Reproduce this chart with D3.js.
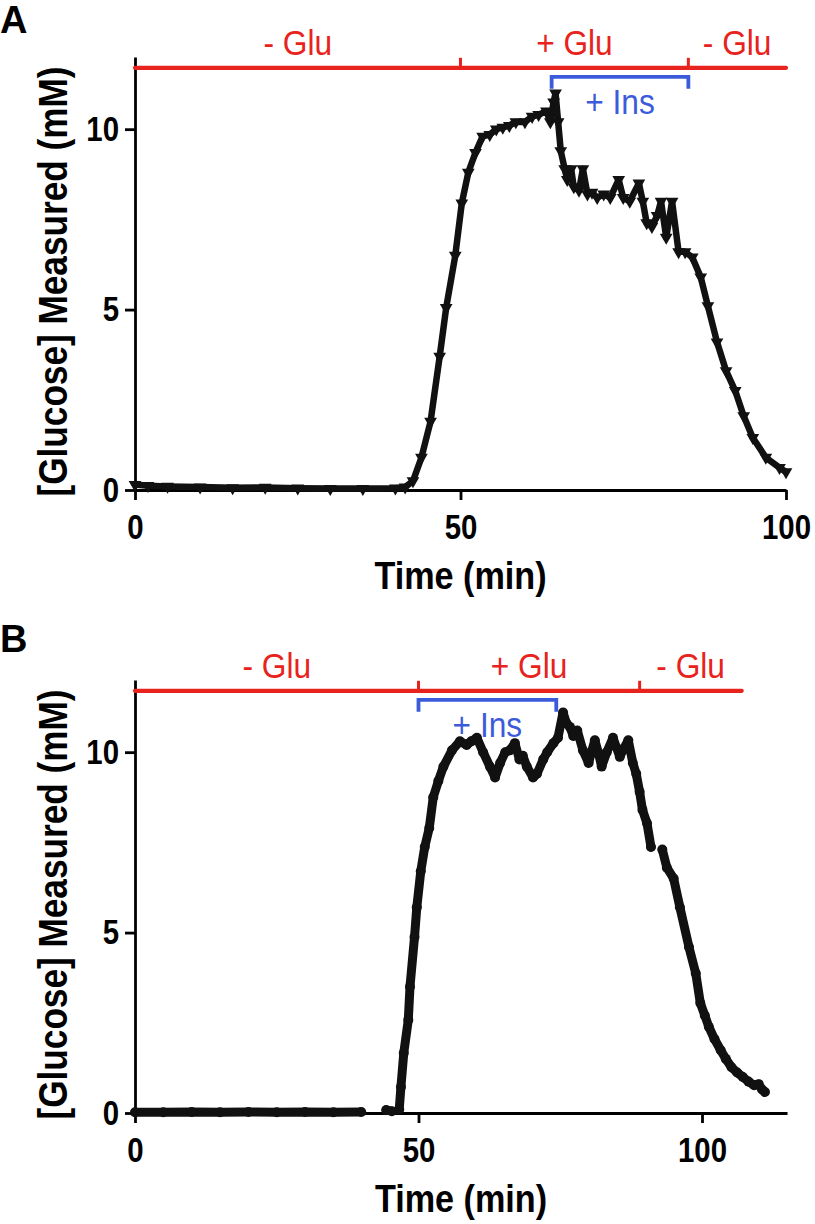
<!DOCTYPE html>
<html>
<head>
<meta charset="utf-8">
<script src="https://cdn.jsdelivr.net/npm/d3@7/dist/d3.min.js"></script>
<style>
  html, body { margin: 0; padding: 0; background: #fff; }
  svg { display: block; }
</style>
</head>
<body>
<script>
// ---------------- DATA ----------------
// Panel A: time (min) and measured glucose (mM)
const timeA = [0, 2, 5, 10, 15, 20, 25, 30, 35, 40, 41.5, 42.7, 44.0, 45.4, 46.8, 47.8, 49.2, 50.2, 51.2, 52.3, 53.4,
  54.5, 55.5, 56.5, 57.5, 58.5, 59.9, 61.0, 62.0, 63.2, 63.8, 64.3, 64.6, 65.0, 65.4, 66.0, 66.4, 67.0, 67.4, 68.2,
  68.8, 69.5, 70.2, 71.0, 72.0, 73.0, 74.3, 75.0, 76.0, 77.4, 78.0, 78.6, 79.4, 80.2, 80.8, 81.6, 82.5, 83.5, 84.5,
  85.6, 86.9, 88.0, 89.4, 90.8, 92.2, 93.5, 94.9, 96.9, 99.0, 100.0];
const glucoseA = [0.15, 0.12, 0.1, 0.08, 0.06, 0.07, 0.05, 0.04, 0.04, 0.05, 0.08, 0.25, 0.9, 1.9, 3.7, 5.05, 6.5, 7.95, 8.8, 9.35, 9.8,
  9.85, 10.0, 10.05, 10.1, 10.2, 10.2, 10.35, 10.4, 10.5, 10.2, 10.75, 11.0, 10.2, 9.4, 8.9, 8.6, 8.9, 8.4, 8.3,
  8.9, 8.2, 8.25, 8.1, 8.2, 8.1, 8.6, 8.1, 8.0, 8.5, 8.0, 7.4, 7.3, 7.6, 8.0, 7.0, 8.0, 6.6, 6.6,
  6.45, 5.9, 5.1, 4.1, 3.3, 2.75, 2.05, 1.45, 0.9, 0.62, 0.5];

// Panel B: time (min) and measured glucose (mM); null marks a gap in the recording
const timeB = [0, 5, 10, 15, 20, 25, 30, 35, 39.9, 42, 44.3, 45.3, 46.0, 46.6, 46.9, 47.4, 48.2, 48.5, 49.3, 49.7, 50.4,
  51.1, 51.9, 52.6, 53.5, 54.4, 55.9, 57.3, 58.5, 59.3, 60.3, 61.4, 62.6, 63.5, 64.4, 65.3, 66.1, 67.0, 67.8, 68.4,
  69.1, 70.2, 70.9, 72.0, 72.7, 73.8, 74.6, 75.5, 76.1, 76.7, 77.3, 78.0, 79.0, 80.0, 80.5, 81.1, 81.7, 82.3, 83.2,
  84.3, 85.5, 86.2, 87.0, 87.8, 88.4, 89.0, 89.5, 90.3, 91.0, 92.0, 93.0, 93.8, 95.0, 96.1, 97.7, 98.9, 99.7, 100.5,
  101.2, 102.2, 103.3, 104.2, 105.2, 106.2, 107.2, 108.2, 109.2, 110.0, 110.6, 111.1];
const glucoseB = [0.02, 0.02, 0.03, 0.02, 0.03, 0.02, 0.03, 0.02, 0.03, null, 0.08, 0.05, null, 0.1, 0.72, 1.66, 2.58, 3.5, 4.88, 5.7, 6.7,
  7.37, 7.9, 8.75, 9.2, 9.6, 10.05, 10.3, 10.2, 10.3, 10.4, 10.0, 9.6, 9.3, 9.7, 10.0, 10.05, 10.25, 9.8, 9.9,
  9.6, 9.3, 9.4, 9.8, 10.0, 10.25, 10.4, 11.1, 10.8, 10.7, 10.45, 10.6, 10.05, 9.7, 10.0, 10.33, 10.0, 9.6, 10.0,
  10.4, 9.87, 10.1, 10.33, 9.7, 9.4, 8.9, 8.4, 8.03, 7.37, null, 7.3, 6.8, 6.5, 5.7, 4.6, 3.87, 3.05, 2.7,
  2.39, 2.05, 1.74, 1.5, 1.27, 1.12, 1.0, 0.87, 0.77, 0.8, 0.65, 0.58];

// Treatment phases (min)
const phaseBoundsA = [0, 50, 85, 100];
const phaseBoundsB = [0, 50, 89, 107];
const phaseLabels = ["- Glu", "+ Glu", "- Glu"];
const insulinA = [64, 85];
const insulinB = [50, 74.3];
const insulinLabel = "+ Ins";

// Axes
const xTicks = [0, 50, 100];
const yTicks = [0, 5, 10];
const yDomain = [0, 12];
const xDomainA = [0, 100];
const xDomainB = [0, 115];
const xTitle = "Time (min)";
const yTitle = "[Glucose] Measured (mM)";
const panelLetters = ["A", "B"];

// ---------------- DRAW ----------------
const W = 815, H = 1224;
const svg = d3.select("body").append("svg").attr("width", W).attr("height", H);
svg.append("rect").attr("width", W).attr("height", H).attr("fill", "#fff");

const RED = "#e8221c", BLUE = "#3b5bdb", FONT = "'Liberation Sans', Arial, Helvetica, sans-serif";

function condense(sel, k) {
  sel.each(function () {
    const t = d3.select(this);
    const x = +t.attr("x") || 0;
    t.attr("x", x / k).attr("transform", `scale(${k},1)`);
  });
}

function panel(cfg) {
  const x = d3.scaleLinear().domain(cfg.xDomain).range([cfg.left, cfg.right]);
  const y = d3.scaleLinear().domain(yDomain).range([cfg.bottom, cfg.top]);
  const g = svg.append("g");

  // axes
  const ya = g.append("g").attr("transform", `translate(${cfg.left},0)`)
    .call(d3.axisLeft(y).tickValues(yTicks).tickSize(10).tickSizeOuter(0).tickPadding(6).tickFormat(d3.format("d")));
  const xa = g.append("g").attr("transform", `translate(0,${cfg.bottom})`)
    .call(d3.axisBottom(x).tickValues(xTicks).tickSize(10).tickSizeOuter(0).tickPadding(14).tickFormat(d3.format("d")));
  [ya, xa].forEach(a => {
    a.select(".domain").attr("stroke", "#000").attr("stroke-width", 2.8);
    a.selectAll(".tick line").attr("stroke", "#000").attr("stroke-width", 2.8);
    a.selectAll(".tick text").attr("fill", "#000").style("font-family", FONT)
      .style("font-weight", "bold").style("font-size", "35px");
    condense(a.selectAll(".tick text"), 0.84);
  });

  // axis titles
  g.append("text").attr("x", (cfg.left + cfg.right) / 2 / 0.9).attr("y", cfg.bottom + 99)
    .attr("transform", "scale(0.9,1)")
    .attr("text-anchor", "middle").style("font-family", FONT).style("font-weight", "bold")
    .style("font-size", "38px").text(xTitle);
  const cy = (cfg.top + cfg.bottom) / 2 + 8;
  g.append("text").attr("transform", `translate(67,${cy}) rotate(-90) scale(0.88,1)`)
    .attr("text-anchor", "middle").style("font-family", FONT).style("font-weight", "bold")
    .style("font-size", "40px").text(yTitle);

  // panel letter
  g.append("text").attr("x", 0).attr("y", cfg.letterY).style("font-family", FONT).style("font-weight", "bold")
    .style("font-size", "38px").text(cfg.letter);

  // phase bar (red)
  const redY = y(11.7);
  const pb = cfg.phases;
  g.append("line").attr("x1", x(pb[0])).attr("x2", x(pb[pb.length - 1])).attr("y1", redY).attr("y2", redY)
    .attr("stroke", RED).attr("stroke-width", 4.2).attr("stroke-linecap", "round");
  pb.slice(1, -1).forEach(b => {
    g.append("line").attr("x1", x(b)).attr("x2", x(b)).attr("y1", redY).attr("y2", redY - 10)
      .attr("stroke", RED).attr("stroke-width", 3);
  });
  phaseLabels.forEach((lab, i) => {
    g.append("text").attr("x", x((pb[i] + pb[i + 1]) / 2) / 0.88).attr("y", redY - 13)
      .attr("transform", "scale(0.88,1)")
      .attr("text-anchor", "middle").attr("fill", RED).style("font-family", FONT)
      .style("font-size", "36px").text(lab);
  });

  // insulin bracket (blue)
  const blueY = y(11.45);
  const ins = cfg.insulin;
  g.append("path")
    .attr("d", `M${x(ins[0])},${blueY + 12}V${blueY}H${x(ins[1])}V${blueY + 12}`)
    .attr("fill", "none").attr("stroke", BLUE).attr("stroke-width", 3.8);
  g.append("text").attr("x", x((ins[0] + ins[1]) / 2) / 0.88).attr("y", blueY + 37)
    .attr("transform", "scale(0.88,1)")
    .attr("text-anchor", "middle").attr("fill", BLUE).style("font-family", FONT)
    .style("font-size", "36px").text(insulinLabel);

  // data
  const pts = cfg.t.map((t, i) => ({ t, v: cfg.v[i] }));
  const line = d3.line().defined(d => d.v !== null).x(d => x(d.t)).y(d => y(d.v));
  g.append("path").datum(pts).attr("d", line).attr("fill", "none").attr("stroke", "#111")
    .attr("stroke-width", cfg.lw).attr("stroke-linejoin", "round").attr("stroke-linecap", "round");
  const valid = pts.filter(d => d.v !== null);
  if (cfg.marker === "circle") {
    g.append("g").selectAll("circle").data(valid).join("circle")
      .attr("cx", d => x(d.t)).attr("cy", d => y(d.v)).attr("r", 5).attr("fill", "#111");
  } else {
    const sym = d3.symbol().type(d3.symbolTriangle).size(70);
    g.append("g").selectAll("path").data(valid).join("path")
      .attr("d", sym).attr("transform", d => `translate(${x(d.t)},${y(d.v)}) rotate(180)`).attr("fill", "#111");
  }
}

panel({ letter: panelLetters[0], letterY: 33, left: 135, right: 786, top: 57, bottom: 490,
  xDomain: xDomainA, phases: phaseBoundsA, insulin: insulinA, t: timeA, v: glucoseA, lw: 6.5, marker: "tri" });
panel({ letter: panelLetters[1], letterY: 652, left: 135, right: 135 + 115 * 5.67, top: 680, bottom: 1113,
  xDomain: xDomainB, phases: phaseBoundsB, insulin: insulinB, t: timeB, v: glucoseB, lw: 9, marker: "circle" });
</script>
</body>
</html>
